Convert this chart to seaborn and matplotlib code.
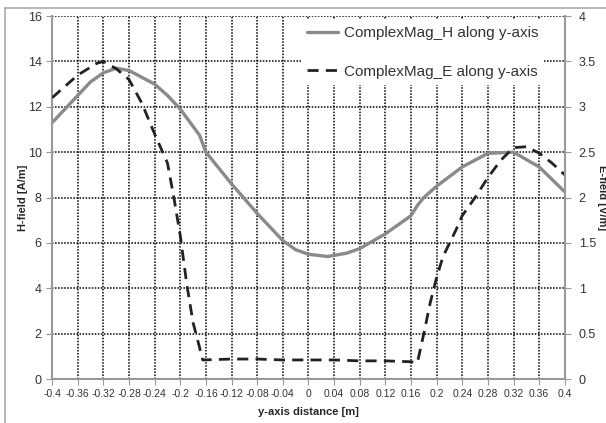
import matplotlib
matplotlib.use("Agg")
import matplotlib.pyplot as plt
import seaborn as sns
import numpy as np
import pandas as pd
from matplotlib.ticker import FuncFormatter, MultipleLocator
from matplotlib.lines import Line2D

# H-field magnitude along y-axis [A/m]
h_dist = [-0.4, -0.38, -0.36, -0.34, -0.32, -0.30, -0.28, -0.26, -0.24, -0.22, -0.2,
          -0.17, -0.16, -0.12, -0.08, -0.04, -0.02, 0.0, 0.03, 0.06, 0.08, 0.12,
          0.16, 0.17, 0.18, 0.2, 0.24, 0.28, 0.32, 0.36, 0.4]
h_vals = [11.3, 11.9, 12.5, 13.1, 13.5, 13.7, 13.6, 13.3, 13.0, 12.5, 11.9,
          10.75, 10.0, 8.6, 7.3, 6.1, 5.7, 5.5, 5.4, 5.55, 5.75, 6.4,
          7.2, 7.65, 8.0, 8.5, 9.35, 9.95, 10.0, 9.35, 8.25]

# E-field magnitude along y-axis [V/m]
e_dist = [-0.4, -0.36, -0.33, -0.32, -0.30, -0.28, -0.26, -0.24, -0.22, -0.21, -0.2,
          -0.19, -0.18, -0.17, -0.165, -0.12, -0.08, -0.04, 0.0, 0.04, 0.08, 0.12,
          0.16, 0.17, 0.18, 0.19, 0.2, 0.21, 0.23, 0.24, 0.26, 0.28, 0.30, 0.32,
          0.34, 0.36, 0.38, 0.4]
e_vals = [3.1, 3.35, 3.48, 3.5, 3.42, 3.3, 3.04, 2.7, 2.38, 2.0, 1.58,
          1.05, 0.62, 0.35, 0.21, 0.22, 0.22, 0.21, 0.21, 0.21, 0.2, 0.2,
          0.19, 0.18, 0.5, 0.84, 1.12, 1.35, 1.64, 1.8, 2.0, 2.22, 2.41, 2.55,
          2.56, 2.49, 2.38, 2.25]

h_df = pd.DataFrame({"dist": h_dist, "val": h_vals})
e_df = pd.DataFrame({"dist": e_dist, "val": e_vals})

sns.set_style("white")
plt.rcParams['font.family'] = ['Liberation Sans Narrow', 'Liberation Sans', 'DejaVu Sans']

fig = plt.figure(figsize=(6.06, 4.23), dpi=100)
ax = fig.add_axes([0.086, 0.104, 0.846, 0.858])
ax2 = ax.twinx()

sns.lineplot(data=h_df, x="dist", y="val", ax=ax, color="#8a8a8a", lw=2.4,
             sort=False, estimator=None, label="ComplexMag_H along y-axis", legend=False)
sns.lineplot(data=e_df, x="dist", y="val", ax=ax2, color="#222222", lw=2.0,
             sort=False, estimator=None, label="ComplexMag_E along y-axis", legend=False)
ax2.lines[0].set_dashes((4, 2.6))

ax.set_xlim(-0.4, 0.4)
ax.set_ylim(0, 16)
ax2.set_ylim(0, 4)
ax.xaxis.set_major_locator(MultipleLocator(0.04))
ax.yaxis.set_major_locator(MultipleLocator(2))
ax2.yaxis.set_major_locator(MultipleLocator(0.5))
fmt = FuncFormatter(lambda v, p: "%g" % round(v, 2))
ax.xaxis.set_major_formatter(fmt)
ax2.yaxis.set_major_formatter(fmt)

ax.grid(True, color="black", linestyle=(0, (1, 1)), linewidth=1.1)
ax.set_axisbelow(True)

for a in (ax, ax2):
    for s in a.spines.values():
        s.set_visible(False)
ax.spines["left"].set_visible(True)
ax.spines["bottom"].set_visible(True)
ax2.spines["right"].set_visible(True)
for s in (ax.spines["left"], ax.spines["bottom"], ax2.spines["right"]):
    s.set_color("#999999")
    s.set_linewidth(1.5)

ax.tick_params(axis="x", labelsize=7.5, direction="out", length=4, color="#999999",
               bottom=True, pad=3, labelcolor="#333333")
ax.tick_params(axis="y", labelsize=9, direction="out", length=4, color="#999999",
               left=True, labelcolor="#333333")
ax2.tick_params(axis="y", labelsize=9, direction="out", length=4, color="#999999",
                right=True, pad=6, labelcolor="#333333")

ax.set_xlabel("y-axis distance [m]", fontsize=8, fontweight="bold", labelpad=6)
ax.set_ylabel("H-field [A/m]", fontsize=8, fontweight="bold", labelpad=0)
ax2.set_ylabel("E-field [V/m]", fontsize=8, fontweight="bold", rotation=270,
               labelpad=8)

handles = ax.lines[:1] + ax2.lines[:1]
leg = ax2.legend(handles, [h.get_label() for h in handles], loc="upper right",
                 bbox_to_anchor=(0.975, 1.01), frameon=True,
                 facecolor="white", edgecolor="none", framealpha=1,
                 handlelength=2.0, handletextpad=0.4, labelspacing=1.6, borderpad=0.4,
                 prop={"family": ["Liberation Sans", "DejaVu Sans"], "size": 11})
for t in leg.get_texts():
    t.set_color("#333333")

# partial frame of the original figure (left and top edges)
fig.add_artist(Line2D([0.008, 0.008], [0.0, 0.981], transform=fig.transFigure,
                      color="#aaaaaa", lw=1.2))
fig.add_artist(Line2D([0.008, 1.0], [0.981, 0.981], transform=fig.transFigure,
                      color="#aaaaaa", lw=1.2))

fig.savefig("out.png", dpi=100)
